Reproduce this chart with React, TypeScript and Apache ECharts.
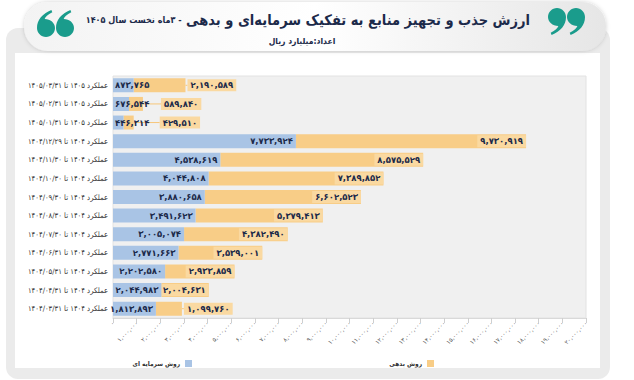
import React, { useEffect, useRef } from "react";
import * as echarts from "echarts";

const categories = [
  "عملکرد ۱۴۰۵ تا ۱۴۰۵/۰۳/۳۱",
  "عملکرد ۱۴۰۵ تا ۱۴۰۵/۰۲/۳۱",
  "عملکرد ۱۴۰۵ تا ۱۴۰۵/۰۱/۳۱",
  "عملکرد ۱۴۰۴ تا ۱۴۰۴/۱۲/۲۹",
  "عملکرد ۱۴۰۴ تا ۱۴۰۴/۱۱/۳۰",
  "عملکرد ۱۴۰۴ تا ۱۴۰۴/۱۰/۳۰",
  "عملکرد ۱۴۰۴ تا ۱۴۰۴/۰۹/۳۰",
  "عملکرد ۱۴۰۴ تا ۱۴۰۴/۰۸/۳۰",
  "عملکرد ۱۴۰۴ تا ۱۴۰۴/۰۷/۳۰",
  "عملکرد ۱۴۰۴ تا ۱۴۰۴/۰۶/۳۱",
  "عملکرد ۱۴۰۴ تا ۱۴۰۴/۰۵/۳۱",
  "عملکرد ۱۴۰۴ تا ۱۴۰۴/۰۴/۳۱",
  "عملکرد ۱۴۰۴ تا ۱۴۰۴/۰۳/۳۱",
];

const equityValues = [
  873765, 676544, 446314, 7733924, 4538619, 4044808, 3880658, 3491623,
  3005074, 2771663, 2202580, 2044983, 1813893,
];

const debtValues = [
  2190589, 589840, 429510, 9730919, 8575529, 7389852, 6602523, 5379413,
  4382490, 3539001, 2933859, 2004631, 1099760,
];

const seriesNames = ["روش سرمایه ای", "روش بدهی"];

const titleParts = {
  lead: "ارزش",
  highlight: "جذب و تجهیز",
  main: "منابع به تفکیک سرمایه‌ای و بدهی",
  tail: "\u200F- ۳ماه نخست سال ۱۴۰۵",
};
const subtitle = "اعداد:میلیارد ریال";

const FONT = "DejaVu Sans";
const FONT_AR = "'DejaVu Sans Condensed', 'DejaVu Sans'";
const NAVY = "#1c2a4a";
const BLUE = "#a9c4e5";
const ORANGE = "#f8cd87";
const TEAL = "#1a9c8c";

const QUOTE_D =
  "M10,0 C15.5,0 20,4.5 20,10 C20,19 14,26 4,30 L3,27.5 C8,25 11,22 11.5,19.9 C5,19.9 0,15.5 0,10 C0,4.5 4.5,0 10,0 Z";
echarts.graphic.registerShape("quoteBlob", echarts.graphic.extendPath(QUOTE_D as any, {}) as any);

const toFa = (s: string) => s.replace(/\d/g, (d) => "۰۱۲۳۴۵۶۷۸۹"[Number(d)]);
const fmt = (v: number) => toFa(v.toLocaleString("en-US"));

export default function App() {
  const ref = useRef<HTMLDivElement>(null);
  useEffect(() => {
    if (!ref.current) return;
    const chart = echarts.init(ref.current, null, { renderer: "svg" });

    const smallEquity = (v: number) => v < 1000000;
    const outsideDebt = (i: number) => debtValues[i] < 1500000 || i === 0;
    const debtShift: Record<number, number> = { 1: 16, 2: 24 };

    const baseLabel = {
      show: true,
      color: NAVY,
      fontFamily: FONT,
      fontWeight: "bold" as const,
      fontSize: 8.5,
    };

    const blob = (x: number, y: number, s: number) => ({
      type: "quoteBlob",
      x,
      y,
      scaleX: s,
      scaleY: s,
      style: { fill: TEAL },
      z: 5,
    });

    const legendText = { fontFamily: FONT_AR, fontSize: 6.5, fontWeight: "bold" as const, color: "#333" };

    chart.setOption({
      animation: false,
      backgroundColor: "#ffffff",
      graphic: [
        {
          type: "rect",
          shape: { x: 6, y: 28, width: 604, height: 351, r: 12 },
          style: { fill: "#ebebeb" },
          z: -10,
        },
        {
          type: "rect",
          shape: { x: 15, y: 53, width: 585, height: 315 },
          style: { fill: "#ffffff" },
          z: -9,
        },
        {
          type: "rect",
          shape: { x: 24, y: 2, width: 582, height: 49, r: 24 },
          style: {
            fill: new echarts.graphic.LinearGradient(0, 0, 1, 0, [
              { offset: 0, color: "#f3f3f3" },
              { offset: 0.5, color: "#ffffff" },
              { offset: 1, color: "#e6e6e6" },
            ]),
            shadowBlur: 4,
            shadowColor: "rgba(0,0,0,0.18)",
          },
          z: -8,
        },
        blob(548, 8, 0.9),
        blob(567, 8, 0.9),
        blob(55, 37, -0.9),
        blob(74, 37, -0.9),
        {
          type: "text",
          x: 530,
          y: 20,
          style: {
            text: `{s|${titleParts.tail}} {d|${titleParts.main}} {o|${titleParts.highlight}} {d|${titleParts.lead}}`,
            align: "right",
            verticalAlign: "middle",
            rich: {
              s: { fontFamily: FONT_AR, fontWeight: "bold", fontSize: 9, color: NAVY },
              d: { fontFamily: FONT_AR, fontWeight: "bold", fontSize: 14.5, color: NAVY },
              o: { fontFamily: FONT_AR, fontWeight: "bold", fontSize: 14.5, color: "#f39a25" },
            },
            fill: NAVY,
            font: `bold 14px ${FONT_AR}`,
          },
        },
        {
          type: "text",
          x: 302,
          y: 41,
          style: {
            text: subtitle,
            fill: NAVY,
            font: `bold 8.5px ${FONT_AR}`,
            align: "center",
            verticalAlign: "middle",
          },
        },
      ],
      legend: [
        {
          top: 355,
          right: 634 - 197,
          align: "right",
          itemWidth: 7,
          itemHeight: 7,
          itemGap: 0,
          icon: "rect",
          textStyle: legendText,
          data: [seriesNames[0]],
        },
        {
          top: 355,
          right: 634 - 439,
          align: "right",
          itemWidth: 7,
          itemHeight: 7,
          itemGap: 0,
          icon: "rect",
          textStyle: legendText,
          data: [seriesNames[1]],
        },
      ],
      grid: {
        left: 113,
        right: 48,
        top: 76,
        height: 242,
        show: true,
        backgroundColor: "#f0f0f0",
        borderColor: "#e2e2e2",
        borderWidth: 1,
      },
      xAxis: {
        type: "value",
        min: 0,
        max: 20000000,
        interval: 1000000,
        splitLine: { show: false },
        axisLine: { show: true, lineStyle: { color: "#d9d9d9" } },
        axisTick: { show: true, length: 5, lineStyle: { color: "#cfcfcf" } },
        axisLabel: {
          rotate: 45,
          fontSize: 6,
          margin: 4,
          color: "#555",
          fontFamily: FONT,
          formatter: (v: number) => fmt(v),
        },
      },
      yAxis: {
        type: "category",
        inverse: true,
        data: categories,
        axisLine: { show: false },
        axisTick: { show: false },
        axisLabel: {
          margin: 5,
          fontSize: 7.6,
          color: "#333",
          fontFamily: FONT_AR,
        },
      },
      series: [
        {
          name: seriesNames[0],
          type: "bar",
          stack: "total",
          barWidth: 14,
          itemStyle: { color: BLUE },
          label: { ...baseLabel, position: "insideRight", distance: 3, formatter: (p: any) => fmt(p.value) },
          data: equityValues.map((v) => ({
            value: v,
            label: smallEquity(v) ? { position: "insideLeft", distance: 2 } : undefined,
          })),
          z: 3,
        },
        {
          name: seriesNames[1],
          type: "bar",
          stack: "total",
          barWidth: 14,
          itemStyle: { color: ORANGE },
          label: {
            ...baseLabel,
            position: "insideRight",
            distance: 0,
            backgroundColor: "#fad9a1",
            padding: [2, 3, 1, 3],
            formatter: (p: any) => fmt(p.value),
          },
          labelLine: { show: true, lineStyle: { color: "#f6c67a", width: 1 } },
          labelLayout: (p: any) =>
            debtShift[p.dataIndex] ? { dx: debtShift[p.dataIndex] } : {},
          data: debtValues.map((v, i) => ({
            value: v,
            label: outsideDebt(i) ? { position: "right", distance: 2 } : undefined,
          })),
          z: 2,
        },
      ],
    });
    return () => chart.dispose();
  }, []);
  return <div ref={ref} style={{ width: 634, height: 380, position: "absolute", left: 0, top: 0 }} />;
}
